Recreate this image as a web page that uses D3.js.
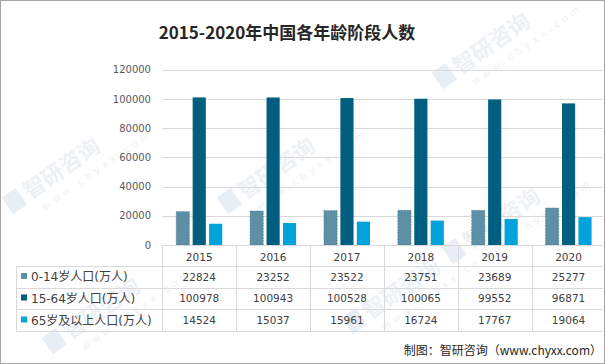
<!DOCTYPE html>
<html><head><meta charset="utf-8">
<script src="https://cdn.jsdelivr.net/npm/d3@7"></script>
<style>body{margin:0;background:#fff}svg{display:block}</style>
</head><body>
<svg id="c" width="605" height="364"></svg>
<script>
const years = ["2015","2016","2017","2018","2019","2020"];
const seriesNames = ["0-14岁人口(万人)","15-64岁人口(万人)","65岁及以上人口(万人)"];
const kids = [22824,23252,23522,23751,23689,25277];
const working = [100978,100943,100528,100065,99552,96871];
const elderly = [14524,15037,15961,16724,17767,19064];
const yTicks = [0,20000,40000,60000,80000,100000,120000];
const colors = ["#5d8fa6","#005f80","#00a3da"];
const series = [kids, working, elderly];

const svg = d3.select("#c");
const W = 605, H = 364;
const font = "'DejaVu Sans', Verdana, sans-serif";

// faint watermarks
const wm = [[30,200],[245,200],[460,75],[470,250],[70,340],[370,320]];
wm.forEach(([x,y])=>{
  const g = svg.append("g").attr("transform",`translate(${x},${y}) rotate(-35)`).attr("fill","#edf1f5");
  g.append("rect").attr("x",-22).attr("y",-18).attr("width",17).attr("height",20).attr("fill","#e8eef5");
  g.append("text").attr("x",0).attr("y",0).attr("font-family","'Noto Sans CJK SC'").attr("font-size",22).attr("font-weight","bold").text("智研咨询");
  g.append("text").attr("x",6).attr("y",17).attr("font-family",font).attr("font-size",10).attr("letter-spacing",4).text("www.chyxx.com");
});

// title
svg.append("text").attr("x",287).attr("y",39).attr("text-anchor","middle")
  .attr("font-family","'Noto Sans CJK SC', sans-serif").attr("font-weight","bold")
  .attr("font-size",17).attr("fill","#262626").text("2015-2020年中国各年龄阶段人数");

const x = d3.scaleBand().domain(years).range([162.3, 605.5]).padding(0);
const y = d3.scaleLinear().domain([0,120000]).range([245,69.6]);
const xs = d3.scaleBand().domain(d3.range(3)).range([-23,23]).paddingInner(0.2);

// gridlines
svg.append("g").selectAll("line").data(yTicks.filter(d=>d>0)).join("line")
  .attr("x1",162.3).attr("x2",603).attr("y1",d=>Math.round(y(d))+0.5).attr("y2",d=>Math.round(y(d))+0.5)
  .attr("stroke","#d9d9d9");

// y axis labels
const ya = d3.axisLeft(y).tickValues(yTicks).tickSize(0).tickPadding(0).tickFormat(d3.format("d"));
const yg = svg.append("g").attr("transform","translate(151,0)").call(ya);
yg.select(".domain").remove();
yg.selectAll("text").attr("font-family",font).attr("font-size",10).attr("fill","#595959");

// bars
series.forEach((vals,si)=>{
  svg.append("g").selectAll("rect").data(years.map((yr,i)=>({yr,v:vals[i]}))).join("rect")
    .attr("x",d=>x(d.yr)+x.bandwidth()/2+xs(si))
    .attr("width",xs.bandwidth())
    .attr("y",d=>y(d.v)).attr("height",d=>y(0)-y(d.v))
    .attr("fill",colors[si])
    .attr("stroke",si===0?"#4a7a90":"none").attr("stroke-dasharray",si===0?"2,1":null).attr("stroke-width",0.6);
});

// table
const rowLines = [266,287.7,309.3,331];
const rowCenters = [276.5,298,320];
const lc = "#d9d9d9";
svg.append("line").attr("x1",162.3).attr("x2",603).attr("y1",245.5).attr("y2",245.5).attr("stroke",lc);
rowLines.forEach(ry=>svg.append("line").attr("x1",16.5).attr("x2",603).attr("y1",Math.round(ry)+0.5).attr("y2",Math.round(ry)+0.5).attr("stroke",lc));
svg.append("line").attr("x1",16.5).attr("x2",16.5).attr("y1",266.5).attr("y2",331.5).attr("stroke",lc);
years.forEach(yr=>{
  const xx = Math.round(x(yr))+0.5;
  svg.append("line").attr("x1",xx).attr("x2",xx).attr("y1",245).attr("y2",331.5).attr("stroke",lc);
});
// year header
svg.append("g").selectAll("text").data(years).join("text")
  .attr("x",d=>x(d)+x.bandwidth()/2).attr("y",261).attr("text-anchor","middle")
  .attr("font-family",font).attr("font-size",10.5).attr("fill","#404040").text(d=>d);
// rows
series.forEach((vals,si)=>{
  const cy = rowCenters[si];
  svg.append("rect").attr("x",21).attr("y",cy-3.5).attr("width",6).attr("height",6).attr("fill",colors[si]);
  svg.append("text").attr("x",31).attr("y",cy+4.5).attr("font-family","'DejaVu Sans','Noto Sans CJK SC',sans-serif")
    .attr("font-size",12).attr("fill","#404040").text(seriesNames[si]);
  svg.append("g").selectAll("text").data(vals).join("text")
    .attr("x",(d,i)=>x(years[i])+x.bandwidth()/2).attr("y",cy+4).attr("text-anchor","middle")
    .attr("font-family",font).attr("font-size",10.5).attr("fill","#404040").text(d=>d);
});

// source
svg.append("text").attr("x",602).attr("y",355).attr("text-anchor","end")
  .attr("font-family","'Noto Sans CJK SC', sans-serif").attr("font-size",12).attr("fill","#262626")
  .text("制图：智研咨询（www.chyxx.com）");

// border
svg.append("rect").attr("x",0.5).attr("y",0.5).attr("width",W-1).attr("height",H-1).attr("fill","none").attr("stroke","#a6a6a6");
</script>
</body></html>
